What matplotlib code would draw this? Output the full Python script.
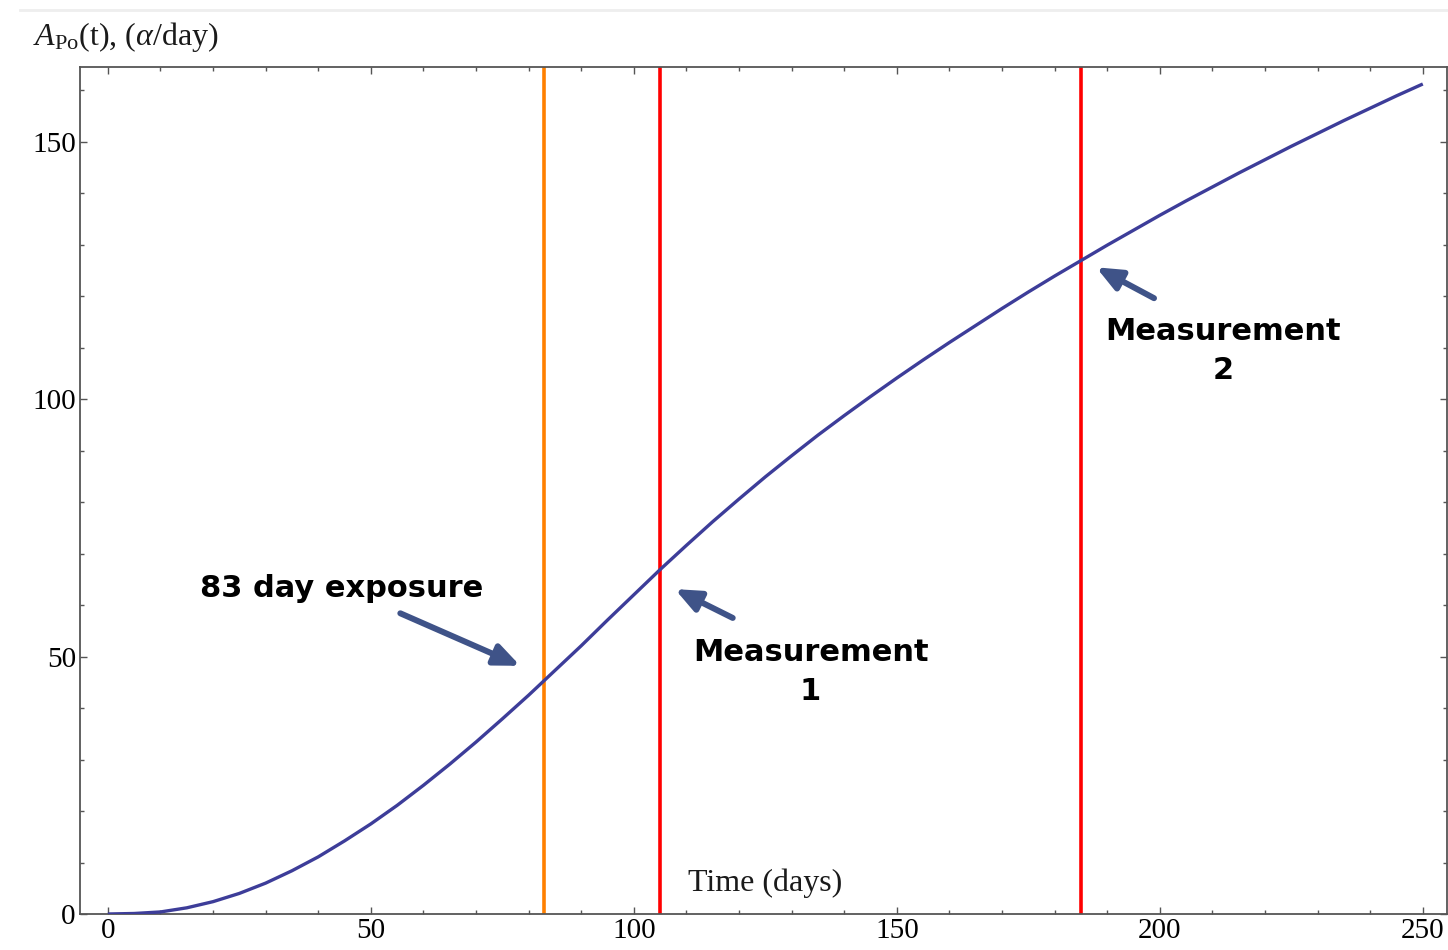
import matplotlib
matplotlib.use("Agg")
import matplotlib.pyplot as plt
from matplotlib.lines import Line2D
from matplotlib.ticker import MultipleLocator

# ---- data ----
days = list(range(0, 255, 5))
activity = [0.0, 0.1, 0.4, 1.2, 2.4, 4.0, 6.0, 8.4, 11.1, 14.2,
            17.5, 21.1, 25.0, 29.1, 33.4, 37.9, 42.5, 47.3, 52.1, 57.1,
            62.0, 66.9, 71.6, 76.2, 80.6, 84.9, 89.0, 93.0, 96.8, 100.5,
            104.1, 107.6, 111.0, 114.3, 117.6, 120.8, 123.9, 126.9, 129.9, 132.8,
            135.7, 138.5, 141.2, 143.9, 146.5, 149.1, 151.6, 154.1, 156.5, 158.9,
            161.2]
exposure_day = 83
measurement_days = [105, 185]
x_ticks = [0, 50, 100, 150, 200, 250]
y_ticks = [0, 50, 100, 150]

plt.rcParams['mathtext.fontset'] = 'custom'
plt.rcParams['mathtext.rm'] = 'Liberation Serif'
plt.rcParams['mathtext.it'] = 'Liberation Serif:italic'

W, H = 1448, 950
fig = plt.figure(figsize=(W / 100, H / 100), dpi=100)
ax = fig.add_axes([80 / W, 1 - 914 / H, (1447 - 80) / W, (914 - 67) / H])

frame_col = '#555555'
curve_col = '#3d3d99'
arrow_col = '#3f5388'

ax.plot(days, activity, color=curve_col, lw=2.4, solid_capstyle='butt', zorder=3)
ax.axvline(exposure_day, color='#ff8000', lw=2.6, zorder=2)
for d in measurement_days:
    ax.axvline(d, color='#ff0000', lw=2.6, zorder=2)

ax.set_xlim(-5.3, 254.6)
ax.set_ylim(0, 164.5)
ax.set_xticks(x_ticks)
ax.set_yticks(y_ticks)
ax.xaxis.set_minor_locator(MultipleLocator(10))
ax.yaxis.set_minor_locator(MultipleLocator(10))
for s in ax.spines.values():
    s.set_color(frame_col)
    s.set_linewidth(1.3)
ax.tick_params(which='both', direction='in', top=True, right=True, color=frame_col, width=1.0)
ax.tick_params(which='major', length=5, labelsize=21, pad=3)
ax.tick_params(which='minor', length=3)
for lab in ax.get_xticklabels() + ax.get_yticklabels():
    lab.set_fontfamily('Liberation Serif')

# axis labels
fig.text(33 / W, 1 - 37 / H, r"$A_{\rm Po}$(t), ($\alpha$/day)", fontsize=23,
         family='Liberation Serif', ha='left', va='center', color='#1a1a1a')
ax.text(124.9, 6.0, "Time (days)", fontsize=23, family='Liberation Serif',
        ha='center', va='center', color='#1a1a1a')

# annotations
font_kw = dict(fontsize=22, fontweight='bold', family='DejaVu Sans', color='black',
               ha='center', va='center', linespacing=1.45)
ax.text(44.4, 63.3, "83 day exposure", **font_kw)
ax.text(133.6, 47.0, "Measurement\n1", **font_kw)
ax.text(212.1, 109.3, "Measurement\n2", **font_kw)

arrow_kw = dict(arrowstyle='-|>,head_length=0.75,head_width=0.32', color=arrow_col,
                lw=4.3, shrinkA=0, shrinkB=0, mutation_scale=20)
ax.annotate("", xy=(78.4, 48.2), xytext=(55.6, 58.4), arrowprops=arrow_kw)
ax.annotate("", xy=(107.8, 63.1), xytext=(118.8, 57.5), arrowprops=arrow_kw)
ax.annotate("", xy=(187.9, 125.6), xytext=(198.9, 119.6), arrowprops=arrow_kw)

# light separator line at the top of the page
fig.add_artist(Line2D([20 / W, 1.0], [1 - 10 / H, 1 - 10 / H], color='#eeeeee', lw=2))

fig.savefig("out.png", dpi=100)
